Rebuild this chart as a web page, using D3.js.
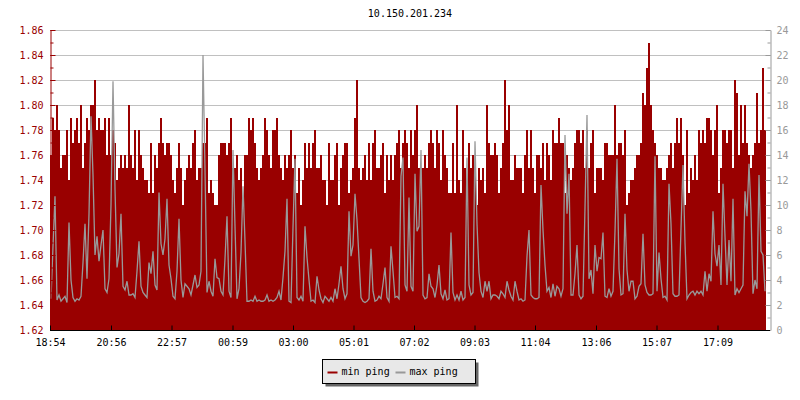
<!DOCTYPE html>
<html><head><meta charset="utf-8">
<script src="https://cdn.jsdelivr.net/npm/d3@7"></script>
<style>
body{margin:0;background:#fff}
svg text{font-family:"DejaVu Sans Mono",monospace;font-size:10px}
</style>
</head><body>
<svg id="chart" width="800" height="400"></svg>
<script>
const chartTitle = "10.150.201.234";
const startTime = "18:54";
const sampleMinutes = 4;
const xTickLabels = ["18:54","20:56","22:57","00:59","03:00","05:01","07:02","09:03","11:04","13:06","15:07","17:09"];
const leftTickValues = [1.62,1.64,1.66,1.68,1.70,1.72,1.74,1.76,1.78,1.80,1.82,1.84,1.86];
const rightTickValues = [0,2,4,6,8,10,12,14,16,18,20,22,24];
const seriesNames = ["min ping","max ping"];

// min ping (left axis), one value per 4-minute sample
const minPing = [
1.76,1.79,1.78,1.80,1.78,1.75,1.76,1.76,1.78,1.74,
1.79,1.77,1.78,1.79,1.77,1.80,1.75,1.77,1.79,1.78,
1.80,1.80,1.82,1.78,1.79,1.78,1.78,1.79,1.76,1.79,
1.76,1.78,1.77,1.74,1.75,1.76,1.75,1.76,1.75,1.80,
1.76,1.75,1.78,1.74,1.78,1.76,1.75,1.74,1.74,1.73,
1.77,1.73,1.76,1.75,1.77,1.79,1.77,1.76,1.77,1.77,
1.76,1.74,1.73,1.75,1.77,1.75,1.72,1.74,1.75,1.76,
1.75,1.77,1.78,1.74,1.75,1.75,1.77,1.77,1.79,1.73,
1.74,1.73,1.72,1.72,1.76,1.77,1.77,1.77,1.76,1.77,
1.79,1.75,1.75,1.76,1.74,1.75,1.72,1.76,1.76,1.79,
1.78,1.79,1.77,1.75,1.74,1.75,1.76,1.79,1.78,1.76,
1.75,1.78,1.78,1.79,1.76,1.75,1.74,1.76,1.75,1.76,
1.78,1.75,1.76,1.73,1.75,1.72,1.74,1.77,1.75,1.77,
1.75,1.77,1.78,1.75,1.75,1.76,1.74,1.74,1.72,1.77,
1.74,1.74,1.76,1.77,1.72,1.75,1.76,1.77,1.77,1.73,
1.74,1.75,1.79,1.82,1.75,1.74,1.75,1.76,1.74,1.77,
1.74,1.77,1.78,1.75,1.75,1.76,1.77,1.73,1.76,1.74,
1.76,1.74,1.76,1.77,1.78,1.75,1.77,1.78,1.77,1.75,
1.78,1.76,1.78,1.80,1.75,1.75,1.75,1.76,1.75,1.77,
1.78,1.77,1.75,1.78,1.77,1.74,1.78,1.76,1.75,1.73,
1.73,1.77,1.73,1.80,1.74,1.73,1.78,1.75,1.73,1.77,
1.75,1.76,1.75,1.72,1.75,1.74,1.75,1.73,1.80,1.77,
1.76,1.76,1.77,1.76,1.73,1.75,1.77,1.82,1.78,1.80,
1.74,1.74,1.76,1.75,1.75,1.75,1.73,1.76,1.78,1.75,
1.78,1.75,1.73,1.76,1.76,1.75,1.77,1.74,1.77,1.76,
1.74,1.78,1.77,1.77,1.79,1.77,1.77,1.73,1.76,1.75,
1.74,1.75,1.77,1.78,1.78,1.77,1.78,1.75,1.78,1.75,
1.77,1.78,1.73,1.75,1.75,1.75,1.74,1.77,1.77,1.76,
1.76,1.76,1.80,1.76,1.77,1.77,1.76,1.78,1.72,1.73,
1.74,1.74,1.75,1.76,1.76,1.77,1.81,1.80,1.83,1.85,
1.80,1.78,1.77,1.76,1.75,1.75,1.74,1.74,1.75,1.76,
1.77,1.75,1.77,1.79,1.77,1.79,1.76,1.72,1.78,1.73,
1.75,1.74,1.76,1.74,1.78,1.77,1.78,1.77,1.79,1.79,
1.78,1.76,1.78,1.80,1.73,1.75,1.78,1.78,1.77,1.78,
1.78,1.75,1.82,1.81,1.76,1.80,1.77,1.80,1.77,1.76,
1.75,1.76,1.77,1.81,1.77,1.78,1.83,1.78
];

// max ping (right axis), one value per 4-minute sample
const maxPing = [
2.5,6.7,10.7,2.4,2.8,2.3,2.5,2.7,2.2,8.6,
4.0,2.6,2.3,2.5,2.4,2.7,5.4,8.5,4.1,9.3,
17.1,12.4,6.0,7.5,5.5,6.8,8.0,3.3,3.0,4.1,
10.0,19.9,11.3,5.0,6.1,9.3,3.5,3.2,3.9,2.8,
2.8,2.9,2.6,4.7,7.1,3.5,3.0,2.8,2.6,5.4,
4.5,6.3,3.6,3.2,11.0,6.9,6.0,7.3,10.5,5.2,
4.1,2.7,2.5,4.7,8.9,4.0,2.6,3.7,3.5,3.3,
2.8,3.6,4.4,3.4,3.6,4.7,22.0,12.8,3.0,3.9,
3.1,2.7,5.7,4.2,4.1,3.1,2.8,5.7,9.1,3.1,
2.6,14.4,8.3,2.5,3.3,6.2,11.5,7.1,2.3,2.3,
2.4,2.3,2.7,2.3,2.4,2.3,2.3,2.4,2.8,2.3,
2.4,2.3,2.4,2.6,3.1,2.4,4.2,6.3,10.5,2.3,
2.2,8.2,13.7,2.6,2.4,2.7,2.3,8.3,5.8,4.0,
2.3,2.4,2.2,4.3,3.2,2.5,2.2,2.7,2.5,2.3,
2.6,2.3,3.3,2.5,3.7,5.1,3.3,2.5,2.9,9.5,
5.9,6.8,10.9,8.8,5.7,2.6,2.3,2.2,2.3,2.5,
6.5,3.1,2.3,2.4,2.7,2.5,3.7,5.0,2.6,2.3,
6.7,4.7,2.6,2.7,2.5,12.3,13.8,3.6,3.1,10.6,
3.5,3.1,12.5,7.9,8.3,14.4,2.8,2.5,2.6,4.5,
3.5,3.3,2.6,3.6,5.2,2.9,2.5,3.2,2.4,2.5,
7.8,3.0,2.4,2.8,2.4,3.1,2.4,2.6,13.8,3.6,
2.8,3.0,15.1,8.5,4.6,3.1,2.6,3.9,3.1,3.9,
2.5,2.8,2.8,2.7,2.5,3.1,2.9,2.6,3.9,3.2,
2.7,2.4,3.9,3.1,2.4,2.5,2.3,2.4,5.9,8.0,
2.8,2.6,2.5,2.5,2.6,11.6,8.0,5.2,3.1,3.4,
2.6,3.7,2.7,3.5,3.3,2.7,3.3,15.6,9.3,12.5,
2.8,2.8,4.5,6.8,2.8,2.5,2.7,9.8,17.2,4.1,
4.8,2.9,6.8,4.7,5.8,5.7,7.8,2.7,2.6,3.3,
2.7,3.1,7.9,13.7,4.9,2.8,2.9,9.3,4.8,3.1,
3.9,3.9,2.5,2.7,3.5,3.7,7.7,3.6,3.0,2.8,
2.8,2.9,13.9,3.1,6.2,4.1,2.6,2.7,2.4,11.7,
8.5,2.9,2.7,2.7,2.8,8.1,13.2,7.0,2.5,2.8,
3.0,3.1,2.8,3.1,2.9,3.1,2.8,4.7,3.1,4.5,
3.9,9.5,6.1,5.1,6.8,3.6,11.7,7.5,3.6,7.2,
3.9,10.5,2.8,3.3,3.0,3.3,3.6,11.1,9.1,13.3,
9.5,2.9,4.0,3.3,12.4,6.3,6.0,3.1
];

const colors = {min:"#990000", max:"#999999", grid:"#c0c0c0"};
const L = 50, R = 766, RA = 770, T = 30, B = 330;

const svg = d3.select("#chart");

const toMin = s => { const [h,m] = s.split(":").map(Number); return h*60+m; };
const t0 = toMin(startTime);
const tickMinutes = xTickLabels.map(s => { let d = toMin(s) - t0; if (d < 0) d += 1440; return d; });

const N = minPing.length;
const x = d3.scaleLinear().domain([0, N*sampleMinutes]).range([L, R]);
const yL = d3.scaleLinear().domain([leftTickValues[0], leftTickValues[leftTickValues.length-1]]).range([B, T]);
const yR = d3.scaleLinear().domain([rightTickValues[0], rightTickValues[rightTickValues.length-1]]).range([B, T]);

// title
svg.append("text").attr("x", (L+RA)/2).attr("y", 17).attr("text-anchor","middle").attr("fill","#000").text(chartTitle);

// gridlines
svg.append("g").selectAll("line").data(leftTickValues.slice(1)).join("line")
  .attr("x1", L).attr("x2", R)
  .attr("y1", d => Math.round(yL(d))+0.5).attr("y2", d => Math.round(yL(d))+0.5)
  .attr("stroke", colors.grid).attr("stroke-width",1);

// min ping area (stepped)
const minPts = minPing.map((v,i)=>({t:i*sampleMinutes, v}));
minPts.push({t:N*sampleMinutes, v:minPing[N-1]});
const area = d3.area().curve(d3.curveStepAfter)
  .x(d => x(d.t)).y0(yL.range()[0]).y1(d => yL(d.v));
svg.append("path").datum(minPts).attr("d", area)
  .attr("fill", colors.min).attr("shape-rendering","crispEdges");

// max ping line
const maxPts = maxPing.map((v,i)=>({t:(i+0.5)*sampleMinutes, v}));
const line = d3.line().x(d => x(d.t)).y(d => yR(d.v));
svg.append("path").datum(maxPts).attr("d", line)
  .attr("fill","none").attr("stroke", colors.max).attr("stroke-width",1.3)
  .attr("stroke-linejoin","miter");

// left axis: minor ticks
const minorL = d3.range(0, 25).map(i => +(leftTickValues[0] + i*0.01).toFixed(2));
const gLm = svg.append("g").attr("transform",`translate(${L+0.5},0)`)
  .call(d3.axisLeft(yL).tickValues(minorL).tickSizeInner(-3).tickSizeOuter(0).tickFormat(""));
gLm.select(".domain").remove();
gLm.selectAll("line").attr("stroke", colors.min);
const gL = svg.append("g").attr("transform",`translate(${L+0.5},0)`)
  .call(d3.axisLeft(yL).tickValues(leftTickValues).tickSizeInner(-5).tickSizeOuter(0).tickPadding(7).tickFormat(d3.format(".2f")));
gL.select(".domain").attr("stroke", colors.min);
gL.selectAll("line").attr("stroke", colors.min);
gL.selectAll("text").attr("fill", colors.min).style("font-family","'DejaVu Sans Mono',monospace").style("font-size","10px");

// right axis
const minorR = d3.range(0, 25);
const gRm = svg.append("g").attr("transform",`translate(${RA+0.5},0)`)
  .call(d3.axisRight(yR).tickValues(minorR).tickSizeInner(-3).tickSizeOuter(0).tickFormat(""));
gRm.select(".domain").remove();
gRm.selectAll("line").attr("stroke", colors.max);
const gR = svg.append("g").attr("transform",`translate(${RA+0.5},0)`)
  .call(d3.axisRight(yR).tickValues(rightTickValues).tickSizeInner(-5).tickSizeOuter(0).tickPadding(6));
gR.select(".domain").attr("stroke", colors.max);
gR.selectAll("line").attr("stroke", colors.max);
gR.selectAll("text").attr("fill", colors.max).style("font-family","'DejaVu Sans Mono',monospace").style("font-size","10px");

// bottom axis
const gB = svg.append("g").attr("transform",`translate(0,${B+0.5})`)
  .call(d3.axisBottom(x).tickValues(tickMinutes).tickSizeInner(-5).tickSizeOuter(0).tickPadding(8)
    .tickFormat((d,i) => xTickLabels[i]));
gB.select(".domain").attr("stroke","#000").attr("d", `M${L},0H${RA}`);
gB.selectAll("line").attr("stroke","#000");
gB.selectAll("text").attr("fill","#000").style("font-family","'DejaVu Sans Mono',monospace").style("font-size","10px");

// legend
const lg = svg.append("g");
const lgX = 322.5, lgY = 359.5, lgW = 153, lgH = 24;
lg.append("rect").attr("x", lgX+3).attr("y", lgY+3).attr("width", lgW).attr("height", lgH).attr("fill","#666");
lg.append("rect").attr("x", lgX).attr("y", lgY).attr("width", lgW).attr("height", lgH).attr("fill","#e8e8e8").attr("stroke","#000");
const legendItems = [{name:seriesNames[0], color:colors.min, off:5},{name:seriesNames[1], color:colors.max, off:73}];
legendItems.forEach(it => {
  lg.append("line").attr("x1", lgX+it.off).attr("x2", lgX+it.off+10).attr("y1", 372.5).attr("y2", 372.5)
    .attr("stroke", it.color).attr("stroke-width", 2);
  lg.append("text").attr("x", lgX+it.off+14).attr("y", 375).attr("fill","#000").text(it.name);
});
</script>
</body></html>
